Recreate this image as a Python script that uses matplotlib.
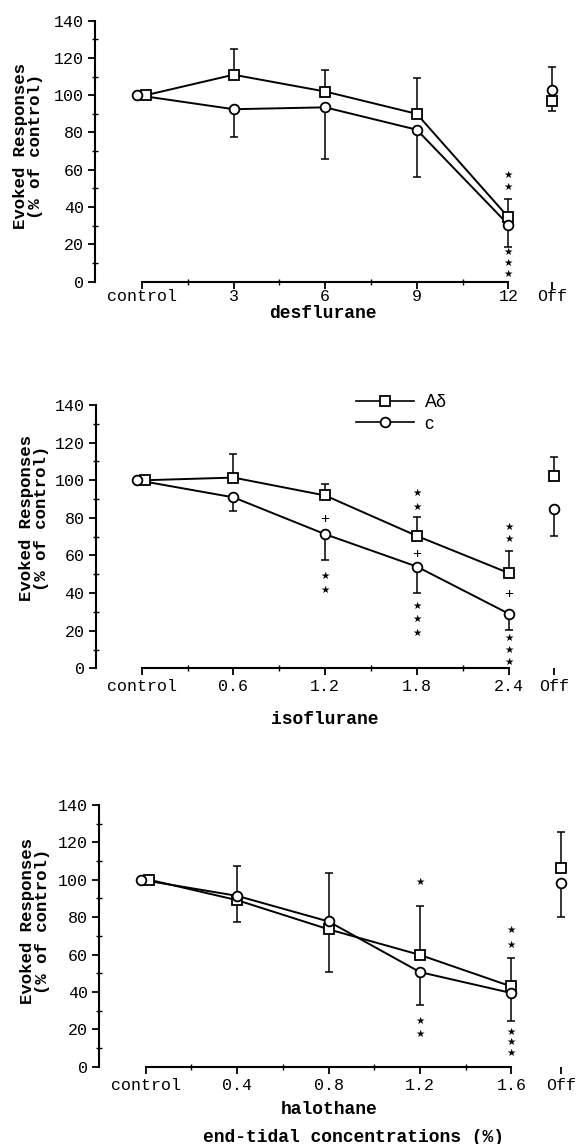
from matplotlib import pyplot as plt
from matplotlib.lines import Line2D
import numpy as np

# desflurane panel
des_cats = ['control', '3', '6', '9', '12', 'Off']
des_a = [100, 111, 102, 90, 34.5, 97]
des_a_up = [0, 14, 11.5, 19, 10, 0]
des_a_dn = [0, 0, 0, 0, 0, 5.5]
des_c = [100, 92.5, 93.5, 81.5, 30.5, 102.7]
des_c_up = [0, 0, 0, 0, 0, 12.6]
des_c_dn = [0, 15, 27.7, 25.2, 11.8, 0]
des_mark_x = [4, 4, 4, 4, 4]
des_mark_y = [57, 51, 16, 10, 4]
des_mark_s = ['*', '*', '*', '*', '*']

# isoflurane panel
iso_cats = ['control', '0.6', '1.2', '1.8', '2.4', 'Off']
iso_a = [100, 101.4, 91.9, 70.4, 50.7, 102.3]
iso_a_up = [0, 12.4, 6, 10.1, 11.5, 9.9]
iso_a_dn = [0, 0, 0, 0, 0, 0]
iso_c = [100, 90.9, 71.3, 54.1, 29.1, 84.5]
iso_c_up = [0, 0, 0, 0, 0, 0]
iso_c_dn = [0, 7.1, 13.9, 13.9, 8.8, 14.1]
iso_mark_x = [2, 2, 2, 3, 3, 3, 3, 3, 3, 4, 4, 4, 4, 4, 4]
iso_mark_y = [79.4, 49, 41.6, 93.3, 85.9, 60.9, 33.1, 26.1, 19,
              75.4, 68.7, 39.3, 16.4, 9.7, 3.5]
iso_mark_s = ['+', '*', '*', '*', '*', '+', '*', '*', '*',
              '*', '*', '+', '*', '*', '*']

# halothane panel
hal_cats = ['control', '0.4', '0.8', '1.2', '1.6', 'Off']
hal_a = [100, 89.1, 73.5, 59.8, 42.9, 106.3]
hal_a_up = [0, 0, 0, 26.3, 15.1, 19.1]
hal_a_dn = [0, 11.9, 22.9, 0, 0, 0]
hal_c = [100, 91.4, 77.7, 50.6, 39.4, 98.3]
hal_c_up = [0, 15.8, 25.9, 0, 0, 0]
hal_c_dn = [0, 0, 0, 17.8, 14.9, 18.1]
hal_mark_x = [3, 3, 3, 4, 4, 4, 4, 4]
hal_mark_y = [99, 24.3, 17.6, 73.1, 65.1, 18.5, 13.1, 7.5]
hal_mark_s = ['*', '*', '*', '*', '*', '*', '*', '*']

MONO = 'Liberation Mono'


def plot_panel(ax, cats, a, a_up, a_dn, c, c_up, c_dn,
               mark_x, mark_y, mark_s, off_pos, xlo, xlabel, lab_xy,
               ylab_xy, xpad=3):
    n = len(cats) - 1
    x = np.append(np.arange(n, dtype=float), off_pos)
    xa = x.copy()
    xc = x.copy()
    xa[0] += 0.04
    xc[0] -= 0.05

    # lines (curve part only, Off stays unconnected)
    ax.plot(xa[:n], a[:n], '-', color='black', lw=1.4, zorder=2)
    ax.plot(xc[:n], c[:n], '-', color='black', lw=1.4, zorder=2)

    ax.errorbar(xa, a, yerr=[a_dn, a_up], fmt='none', ecolor='black',
                elinewidth=1.1, capsize=3, capthick=1.1, zorder=1)
    ax.errorbar(xc, c, yerr=[c_dn, c_up], fmt='none', ecolor='black',
                elinewidth=1.1, capsize=3, capthick=1.1, zorder=1)

    ax.plot(xa, a, 's', ms=6.5, mfc='white', mec='black', mew=1.3,
            zorder=3, clip_on=False)
    ax.plot(xc, c, 'o', ms=7, mfc='white', mec='black', mew=1.3,
            zorder=4, clip_on=False)

    for mx, my, s in zip(mark_x, mark_y, mark_s):
        if s == '*':
            ax.text(mx, my, '\u2605', fontsize=7.5, family='DejaVu Sans',
                    ha='center', va='center')
        else:
            ax.text(mx, my, '+', fontsize=11, family=MONO,
                    ha='center', va='center')

    ax.set_xlim(xlo, 4.75)
    ax.set_ylim(0, 140)
    ax.spines['top'].set_visible(False)
    ax.spines['right'].set_visible(False)
    ax.spines['bottom'].set_bounds(0, n - 1)
    ax.spines['left'].set_linewidth(1.5)
    ax.spines['bottom'].set_linewidth(1.5)

    ax.set_xticks(x)
    ax.set_xticklabels(cats, family=MONO, fontsize=12)
    ax.set_xticks(np.arange(n - 1) + 0.5, minor=True)
    ax.set_yticks(np.arange(0, 141, 20))
    ax.set_yticklabels([str(v) for v in range(0, 141, 20)],
                       family=MONO, fontsize=12)
    ax.set_yticks(np.arange(10, 140, 20), minor=True)
    ax.tick_params(which='major', direction='out', length=5, width=1.3,
                   pad=3)
    ax.tick_params(axis='x', which='major', pad=xpad)
    ax.tick_params(which='minor', direction='inout', length=4, width=1.0)

    ax.set_ylabel('Evoked Responses\n(% of control)', family=MONO,
                  fontweight='bold', fontsize=12.5, linespacing=1.0)
    ax.yaxis.set_label_coords(*ylab_xy)
    ax.set_xlabel(xlabel, family=MONO, fontweight='bold', fontsize=13)
    ax.xaxis.set_label_coords(*lab_xy)


fig = plt.figure(figsize=(5.82, 11.44), dpi=100)

ax1 = fig.add_axes([0.1632, 0.7539, 0.8283, 0.2280])
plot_panel(ax1, des_cats, des_a, des_a_up, des_a_dn, des_c, des_c_up,
           des_c_dn, des_mark_x, des_mark_y, des_mark_s, 4.48, -0.513,
           'desflurane', (0.473, -0.09), (-0.108, 0.52), xpad=0.5)

ax2 = fig.add_axes([0.1644, 0.4158, 0.8275, 0.2302])
plot_panel(ax2, iso_cats, iso_a, iso_a_up, iso_a_dn, iso_c, iso_c_up,
           iso_c_dn, iso_mark_x, iso_mark_y, iso_mark_s, 4.5, -0.502,
           'isoflurane', (0.476, -0.162), (-0.097, 0.57))

ax3 = fig.add_axes([0.1701, 0.0676, 0.8263, 0.2287])
plot_panel(ax3, hal_cats, hal_a, hal_a_up, hal_a_dn, hal_c, hal_c_up,
           hal_c_dn, hal_mark_x, hal_mark_y, hal_mark_s, 4.54, -0.511,
           'halothane', (0.479, -0.131), (-0.102, 0.555))

# legend (isoflurane panel)
h_a = Line2D([], [], color='black', lw=1.2, marker='s', ms=6.5,
             mfc='white', mec='black', mew=1.3)
h_c = Line2D([], [], color='black', lw=1.2, marker='o', ms=7,
             mfc='white', mec='black', mew=1.3)
fig.legend([h_a, h_c], ['A\u03b4', 'c'], loc='upper left',
           bbox_to_anchor=(356 / 582, 1 - 394 / 1144), frameon=False,
           prop={'family': 'Liberation Sans', 'size': 13},
           handlelength=3.2, handletextpad=0.6, labelspacing=0.25,
           borderpad=0, borderaxespad=0)

fig.text(354 / 582, 1 - 1137 / 1144, 'end-tidal concentrations (%)',
         family=MONO, fontweight='bold', fontsize=13,
         ha='center', va='center')

fig.savefig('out.png', dpi=100)
